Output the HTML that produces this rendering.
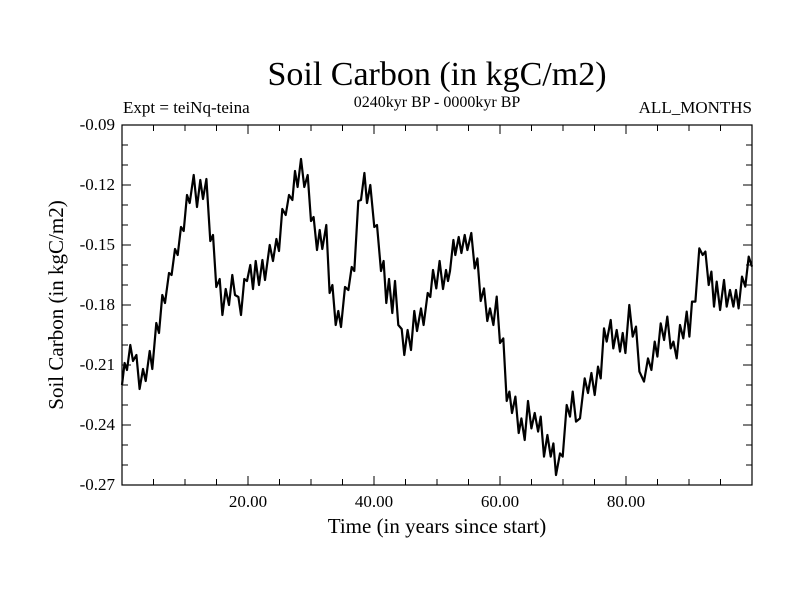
<!DOCTYPE html>
<html><head><meta charset="utf-8"><style>
html,body{margin:0;padding:0;background:#fff;}
svg text{font-family:"Liberation Serif",serif;fill:#000;}
</style></head><body>
<svg id="chart" width="800" height="600" viewBox="0 0 800 600" xmlns="http://www.w3.org/2000/svg">
<rect width="800" height="600" fill="#fff"/>
<text x="437" y="85" font-size="34" text-anchor="middle">Soil Carbon (in kgC/m2)</text>
<text x="123" y="113" font-size="17">Expt = teiNq-teina</text>
<text x="437" y="107" font-size="16" text-anchor="middle">0240kyr BP - 0000kyr BP</text>
<text x="752" y="113" font-size="17" text-anchor="end">ALL_MONTHS</text>
<text transform="translate(63,305) rotate(-90)" font-size="21" text-anchor="middle">Soil Carbon (in kgC/m2)</text>
<text x="437" y="533" font-size="21" text-anchor="middle">Time (in years since start)</text>
<g id="axes"></g>
<g id="series"></g>
</svg>
<script>
const xTicks = [20, 40, 60, 80];
const xTickLabels = ["20.00", "40.00", "60.00", "80.00"];
const yTicks = [-0.09, -0.12, -0.15, -0.18, -0.21, -0.24, -0.27];
const yTickLabels = ["-0.09", "-0.12", "-0.15", "-0.18", "-0.21", "-0.24", "-0.27"];
const time = [0,0.42,0.79,1.32,1.75,2.28,2.8,3.33,3.76,4.39,4.81,5.45,5.87,6.4,6.83,7.46,7.88,8.41,8.84,9.37,9.79,10.32,10.74,11.38,11.9,12.43,12.86,13.39,14.02,14.44,14.97,15.5,15.93,16.46,16.98,17.51,17.94,18.47,18.89,19.42,19.84,20.37,20.79,21.22,21.75,22.28,22.7,23.44,23.97,24.5,24.92,25.45,25.98,26.51,27.04,27.46,27.88,28.41,28.94,29.47,30,30.42,30.95,31.38,31.8,32.43,32.96,33.39,33.92,34.34,34.76,35.4,35.93,36.46,36.88,37.51,37.94,38.47,38.89,39.42,40.05,40.48,41.11,41.53,41.96,42.38,42.91,43.33,43.86,44.39,44.81,45.34,45.87,46.4,46.83,47.46,47.88,48.52,48.94,49.37,49.89,50.42,50.95,51.43,51.75,52.07,52.6,52.91,53.44,53.87,54.4,54.82,55.45,55.98,56.41,56.93,57.46,57.99,58.42,58.95,59.47,60,60.53,61.06,61.49,61.91,62.44,62.97,63.39,63.92,64.45,64.98,65.51,66.04,66.46,66.99,67.52,68.04,68.47,68.89,69.53,69.95,70.59,71.11,71.54,72.07,72.7,73.44,73.97,74.5,75.03,75.56,75.98,76.51,76.94,77.57,77.99,78.52,79.05,79.47,79.9,80.53,81.06,81.59,82.12,82.86,83.5,84.03,84.55,84.98,85.51,86.04,86.56,87.09,87.52,88.05,88.57,89.1,89.63,90.06,90.48,91.01,91.64,92.17,92.6,93.13,93.55,93.97,94.4,94.93,95.56,95.98,96.51,97.04,97.46,97.88,98.41,98.94,99.47,100];
const carbon = [-0.22,-0.209,-0.2125,-0.2,-0.208,-0.205,-0.222,-0.212,-0.218,-0.203,-0.212,-0.189,-0.194,-0.175,-0.179,-0.164,-0.165,-0.152,-0.155,-0.141,-0.143,-0.125,-0.129,-0.115,-0.131,-0.1175,-0.127,-0.117,-0.148,-0.145,-0.171,-0.167,-0.185,-0.172,-0.18,-0.165,-0.175,-0.176,-0.185,-0.167,-0.168,-0.16,-0.172,-0.158,-0.17,-0.1575,-0.1675,-0.15,-0.158,-0.147,-0.153,-0.132,-0.135,-0.125,-0.1275,-0.113,-0.121,-0.107,-0.121,-0.115,-0.138,-0.136,-0.1525,-0.1425,-0.152,-0.14,-0.174,-0.17,-0.19,-0.183,-0.191,-0.171,-0.1725,-0.161,-0.163,-0.128,-0.1275,-0.114,-0.129,-0.12,-0.141,-0.14,-0.163,-0.158,-0.179,-0.167,-0.184,-0.168,-0.19,-0.192,-0.205,-0.1925,-0.2025,-0.183,-0.193,-0.1817,-0.19,-0.174,-0.176,-0.1625,-0.1717,-0.158,-0.172,-0.1625,-0.168,-0.163,-0.1475,-0.155,-0.146,-0.154,-0.145,-0.1525,-0.144,-0.1617,-0.1567,-0.178,-0.1717,-0.188,-0.1817,-0.19,-0.1758,-0.199,-0.1967,-0.228,-0.2233,-0.234,-0.2258,-0.244,-0.2367,-0.2475,-0.228,-0.2417,-0.234,-0.2433,-0.2358,-0.2558,-0.245,-0.2558,-0.2492,-0.265,-0.2542,-0.2558,-0.23,-0.2358,-0.2233,-0.2383,-0.2367,-0.2167,-0.224,-0.214,-0.225,-0.2108,-0.2167,-0.1917,-0.1983,-0.1875,-0.2017,-0.1925,-0.2033,-0.194,-0.204,-0.18,-0.1958,-0.1908,-0.2133,-0.2183,-0.2067,-0.2125,-0.1983,-0.2058,-0.1892,-0.1975,-0.1858,-0.2017,-0.1983,-0.2067,-0.19,-0.1967,-0.1833,-0.1958,-0.1783,-0.1783,-0.1517,-0.155,-0.1533,-0.17,-0.1633,-0.1808,-0.1683,-0.1825,-0.1675,-0.1808,-0.1725,-0.1808,-0.1725,-0.1817,-0.1658,-0.1708,-0.1558,-0.1608];

const L=122,R=752,T=125,B=485,xMin=0,xMax=100,yMin=-0.27,yMax=-0.09;
function xs(v){return L+(v-xMin)/(xMax-xMin)*(R-L);}
function ys(v){return B-(v-yMin)/(yMax-yMin)*(B-T);}
const NS="http://www.w3.org/2000/svg";
const axes=document.getElementById('axes');
function mk(tag,attrs,parent){const e=document.createElementNS(NS,tag);for(const k in attrs)e.setAttribute(k,attrs[k]);parent.appendChild(e);return e;}
const frame=mk('rect',{x:L,y:T,width:R-L,height:B-T,fill:'none',stroke:'#000','stroke-width':1.2},axes);


let d='';
for(let v=0;v<=100.001;v+=5){const x=xs(v);const len=(v%20===0)?9:6;d+=`M${x},${B}v${-len}M${x},${T}v${len}`;}
for(let i=0;i<=18;i++){const v=yMin+i*0.01;const y=ys(v);const len=(i%3===0)?9:6;d+=`M${L},${y}h${len}M${R},${y}h${-len}`;}
const ticks=mk('path',{d:d,stroke:'#000','stroke-width':1,fill:'none'},axes);


xTicks.forEach((v,i)=>{const t=mk('text',{x:xs(v),y:507,'font-size':17,'text-anchor':'middle'},axes);t.textContent=xTickLabels[i];

});
yTicks.forEach((v,i)=>{const t=mk('text',{x:115,y:ys(v)+5,'font-size':17,'text-anchor':'end'},axes);t.textContent=yTickLabels[i];

});
const pts=time.map((t,i)=>xs(t).toFixed(1)+','+ys(carbon[i]).toFixed(1)).join(' ');
const line=mk('polyline',{points:pts,fill:'none',stroke:'#000','stroke-width':2.2,'stroke-linejoin':'round'},document.getElementById('series'));


</script>
</body></html>
